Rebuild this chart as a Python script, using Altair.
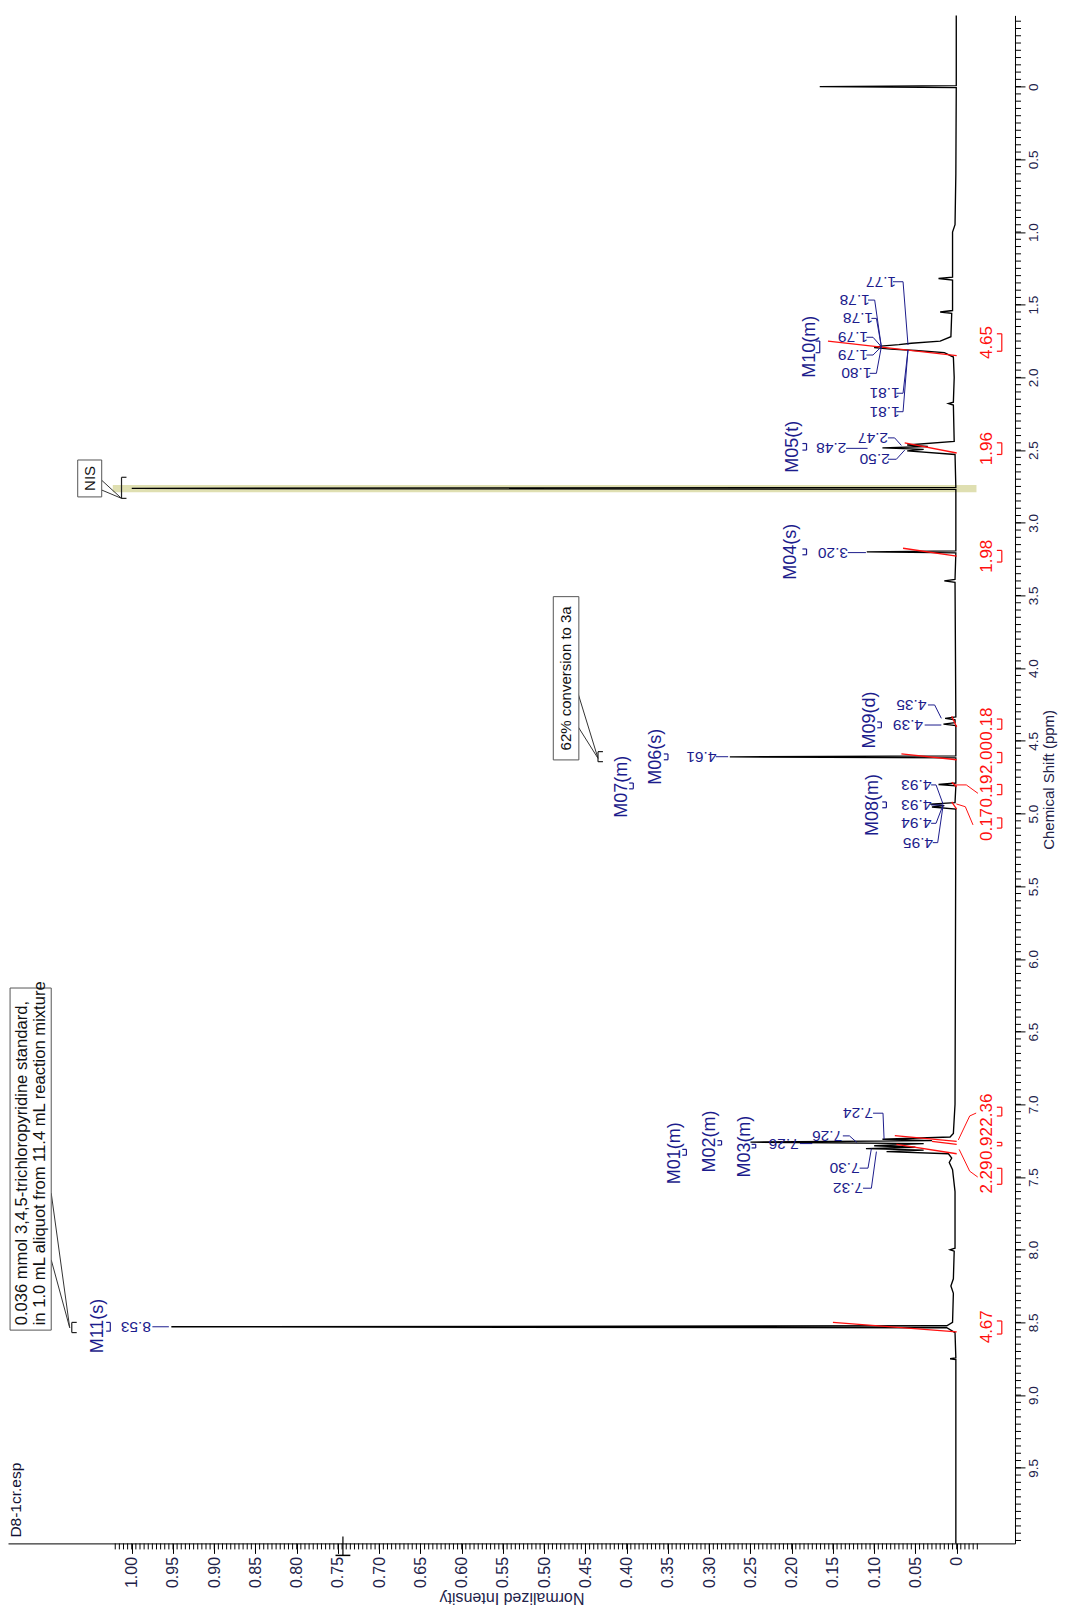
import altair as alt
import pandas as pd

# ---------------- spectrum (ppm, normalized intensity) ----------------
SPEC_PPM = [-0.49, -0.007, 0.0, 0.007, 0.6, 0.95, 1.0, 1.31, 1.32, 1.33,
            1.54, 1.55, 1.56, 1.72, 1.75, 1.765, 1.775, 1.785, 1.795, 1.805,
            1.815, 1.83, 1.86, 2.0, 2.17, 2.18, 2.19, 2.44, 2.465, 2.475,
            2.485, 2.495, 2.505, 2.53, 2.756, 2.763, 2.770, 3.193, 3.2, 3.207,
            3.39, 3.4, 3.41, 4.335, 4.345, 4.355, 4.375, 4.385, 4.395, 4.603,
            4.61, 4.617, 4.79, 4.8, 4.81, 4.925, 4.935, 4.945, 4.955, 4.97,
            7.0, 7.2, 7.225, 7.24, 7.25, 7.26, 7.27, 7.285, 7.295, 7.305,
            7.315, 7.325, 7.34, 7.37, 7.4, 7.45, 7.6, 7.99, 8.0, 8.01,
            8.2, 8.25, 8.3, 8.5, 8.523, 8.53, 8.537, 8.57, 8.745, 8.75,
            8.755, 10.02]
SPEC_INT = [0.0005, 0.0005, 0.166, 0.0005, 0.001, 0.002, 0.005, 0.005, 0.022, 0.005,
            0.005, 0.02, 0.006, 0.007, 0.02, 0.055, 0.07, 0.092, 0.1, 0.08,
            0.05, 0.015, 0.004, 0.003, 0.004, 0.01, 0.004, 0.003, 0.06, 0.035,
            0.09, 0.04, 0.06, 0.002, 0.001, 1.0, 0.001, 0.001, 0.109, 0.001,
            0.002, 0.015, 0.002, 0.001, 0.014, 0.002, 0.002, 0.016, 0.001, 0.001,
            0.275, 0.001, 0.001, 0.022, 0.001, 0.002, 0.032, 0.015, 0.03, 0.001,
            0.002, 0.004, 0.008, 0.09, 0.03, 0.25, 0.04, 0.1, 0.05, 0.11,
            0.04, 0.085, 0.01, 0.006, 0.009, 0.005, 0.002, 0.002, 0.008, 0.003,
            0.004, 0.007, 0.004, 0.005, 0.012, 0.952, 0.012, 0.002, 0.001, 0.008,
            0.001, 0.001]

# ---------------- integrals ----------------
INTEG_HEIGHT = [0.156, 0.063, 0.065, 0.006, 0.067, 0.006, 0.006, 0.075, 0.03, 0.073, 0.15]
INTEG_PPM_LO = [1.75, 2.45, 3.175, 4.33, 4.59, 4.785, 4.92, 7.215, 7.255, 7.275, 8.50]
INTEG_PPM_HI = [1.85, 2.52, 3.23, 4.405, 4.63, 4.815, 4.97, 7.255, 7.275, 7.34, 8.565]

INTEG_LABELS = ["4.65", "1.96", "1.98", "0.18", "2.00", "0.19", "0.17", "2.36", "0.92", "2.29", "4.67"]
INTEG_LABEL_PPM = [1.76, 2.49, 3.23, 4.385, 4.615, 4.845, 5.075, 7.04, 7.27, 7.50, 8.53]
INTEG_BR_LO = [1.70, 2.45, 3.19, 4.35, 4.58, 4.80, 5.03, 7.02, 7.262, 7.44, 8.49]
INTEG_BR_HI = [1.82, 2.53, 3.27, 4.42, 4.65, 4.87, 5.10, 7.08, 7.285, 7.55, 8.58]
INTEG_LABEL_INT = -0.0372
INTEG_BR_INT = -0.0547

RED_LEADER_ID = [0, 0, 0, 1, 1, 1, 2, 2, 2, 3, 3, 3]
RED_LEADER_INT = [-0.0258, -0.0117, 0.0024, -0.0198, -0.0105, 0.0004,
                  -0.0236, -0.0158, -0.002, -0.0255, -0.0158, -0.003]
RED_LEADER_PPM = [4.861, 4.803, 4.803, 5.078, 4.953, 4.934,
                  7.06, 7.08, 7.245, 7.50, 7.46, 7.31]

# ---------------- peak labels (blue, upside down) ----------------
PEAK_LABELS = ["8.53", "7.26", "7.24", "7.26", "7.30", "7.32",
               "1.77", "1.78", "1.78", "1.79", "1.79", "1.80", "1.81", "1.81",
               "2.48", "2.47", "2.50", "3.20", "4.61", "4.39", "4.35",
               "4.93", "4.93", "4.94", "4.95"]
PEAK_LABEL_INT = [0.995, 0.2097, 0.1196, 0.157, 0.1358, 0.1317,
                  0.0917, 0.1236, 0.1196, 0.1257, 0.1257, 0.1216, 0.0873, 0.0873,
                  0.152, 0.1014, 0.0994, 0.150, 0.3095, 0.059, 0.0549,
                  0.0489, 0.0489, 0.0489, 0.0469]
PEAK_LABEL_PPM = [8.53, 7.27, 7.061, 7.217, 7.439, 7.577,
                  1.342, 1.468, 1.594, 1.724, 1.846, 1.972, 2.109, 2.236,
                  2.488, 2.416, 2.563, 3.205, 4.609, 4.391, 4.253,
                  4.803, 4.941, 5.067, 5.200]

BLUE_LEADER_ID = [0, 0, 1, 1, 2, 2, 2, 3, 3, 3, 4, 4, 4, 5, 5, 5,
                  6, 6, 6, 7, 7, 7, 8, 8, 8, 9, 9, 9, 10, 10, 10, 11, 11, 11,
                  12, 12, 12, 13, 13, 13, 14, 14, 15, 15, 15, 16, 16, 16,
                  17, 17, 18, 18, 19, 19, 20, 20, 20,
                  21, 21, 21, 22, 22, 23, 23, 23, 24, 24, 24]
BLUE_LEADER_INT = [0.975, 0.955, 0.19, 0.175, 0.1014, 0.0893, 0.088, 0.138, 0.130, 0.121,
                   0.1176, 0.1075, 0.1034, 0.1135, 0.1034, 0.0973,
                   0.0772, 0.065, 0.059, 0.1075, 0.0994, 0.0913, 0.1034, 0.0973, 0.0913,
                   0.1095, 0.1014, 0.0913, 0.1095, 0.1014, 0.0913, 0.1055, 0.0973, 0.0913,
                   0.0731, 0.065, 0.059, 0.0731, 0.065, 0.059, 0.134, 0.108,
                   0.0833, 0.0752, 0.067, 0.0833, 0.0731, 0.063,
                   0.132, 0.11, 0.292, 0.277, 0.0388, 0.0186, 0.0348, 0.0267, 0.0186,
                   0.031, 0.025, 0.0165, 0.031, 0.0165, 0.031, 0.025, 0.0165, 0.029, 0.023, 0.0165]
BLUE_LEADER_PPM = [8.53, 8.53, 7.27, 7.27, 7.061, 7.061, 7.24, 7.217, 7.217, 7.262,
                   7.439, 7.439, 7.305, 7.577, 7.577, 7.325,
                   1.342, 1.342, 1.777, 1.468, 1.468, 1.789, 1.594, 1.594, 1.789,
                   1.724, 1.724, 1.789, 1.846, 1.846, 1.789, 1.972, 1.972, 1.789,
                   2.109, 2.109, 1.811, 2.236, 2.236, 1.811, 2.488, 2.488,
                   2.416, 2.416, 2.468, 2.563, 2.563, 2.50,
                   3.205, 3.205, 4.609, 4.609, 4.391, 4.391, 4.253, 4.253, 4.345,
                   4.803, 4.803, 4.935, 4.941, 4.941, 5.067, 5.067, 4.941, 5.200, 5.200, 4.945]

# ---------------- multiplet labels ----------------
MULT_LABELS = ["M11(s)", "M01(m)", "M02(m)", "M03(m)", "M10(m)", "M05(t)",
               "M04(s)", "M06(s)", "M07(m)", "M09(d)", "M08(m)"]
MULT_INT = [1.041, 0.3418, 0.2994, 0.257, 0.178, 0.198, 0.2004, 0.364, 0.406, 0.1055, 0.1014]
MULT_PPM = [8.525, 7.336, 7.256, 7.291, 1.789, 2.477, 3.199, 4.609, 4.815, 4.356, 4.941]
MULT_BR_INT = [1.026, 0.3276, 0.285, 0.2436, 0.166, 0.182, 0.182, 0.350, 0.392, 0.0913, 0.0852]
MULT_BR_LO = [8.50, 7.31, 7.25, 7.275, 1.75, 2.455, 3.18, 4.59, 4.79, 4.37, 4.92]
MULT_BR_HI = [8.56, 7.35, 7.28, 7.30, 1.83, 2.50, 3.22, 4.63, 4.83, 4.41, 4.96]

# ---------------- callouts ----------------
BOX_INT_A = [1.1475, 0.489, 1.0655]
BOX_INT_B = [1.0976, 0.458, 1.0364]
BOX_PPM_A = [6.20, 3.508, 2.568]
BOX_PPM_B = [8.553, 4.631, 2.822]

STD_TEXT = ["0.036 mmol 3,4,5-trichloropyridine standard,",
            "in 1.0 mL aliquot from 11.4 mL reaction mixture"]
STD_TEXT_INT = [1.133, 1.111]
STD_TEXT_PPM = [8.52, 8.52]

BOX_TEXT = ["62% conversion to 3a", "NIS"]
BOX_TEXT_INT = [0.4735, 1.051]
BOX_TEXT_PPM = [4.07, 2.695]

CALLOUT_LINE_ID = [0, 0, 1, 1, 2, 2, 3, 3, 4, 4, 5, 5]
CALLOUT_LINE_INT = [1.0976, 1.0752, 1.0976, 1.0752, 0.459, 0.4348, 0.459, 0.4348,
                    1.0367, 1.0124, 1.0367, 1.0124]
CALLOUT_LINE_PPM = [7.611, 8.537, 8.07, 8.537, 4.173, 4.62, 4.402, 4.62,
                    2.706, 2.832, 2.774, 2.832]
CALLOUT_BR_INT = [1.0727, 0.4348, 1.0124]
CALLOUT_BR_LO = [8.50, 4.574, 2.687]
CALLOUT_BR_HI = [8.57, 4.643, 2.832]

NIS_BAND_INT = [-0.024, 1.023]
NIS_BAND_PPM = [2.74, 2.79]

FILE_LABEL = "D8-1cr.esp"

# axis tick positions
INT_MAJOR_TICKS = [0.0, 0.05, 0.1, 0.15, 0.2, 0.25, 0.3, 0.35, 0.4, 0.45, 0.5,
                   0.55, 0.6, 0.65, 0.7, 0.75, 0.8, 0.85, 0.9, 0.95, 1.0]
PPM_MAJOR_TICKS = [0.0, 0.5, 1.0, 1.5, 2.0, 2.5, 3.0, 3.5, 4.0, 4.5, 5.0,
                   5.5, 6.0, 6.5, 7.0, 7.5, 8.0, 8.5, 9.0, 9.5]
INT_MINOR_TICKS = [round(k * 0.005, 3) for k in range(-5, 205)]
PPM_MINOR_TICKS = [round(k * 0.05, 2) for k in range(-9, 201)]

# ---------------- styling ----------------
W, H = 1007, 1528
FONT = "Liberation Sans"
BLUE = "#1c1c8c"
RED = "#ff1010"
AXIS_TXT = "#22224a"

XS = alt.Scale(domain=[-0.0707, 1.15], reverse=True, nice=False, zero=False)
YS = alt.Scale(domain=[-0.49, 10.02], reverse=True, nice=False, zero=False)

x_axis = alt.Axis(
    orient="bottom", values=INT_MAJOR_TICKS, grid=False,
    labelExpr="datum.value == 0 ? '0' : format(datum.value, '.2f')",
    labelAngle=270, labelAlign="right", labelBaseline="middle",
    labelFont=FONT, labelFontSize=16, labelColor=AXIS_TXT, labelPadding=3,
    labelOverlap=False, labelFlush=False,
    tickColor="black", tickWidth=1, tickSize=10,
    domainColor="black", domainWidth=1,
    title="Normalized Intensity", titleAngle=180, titleBaseline="bottom",
    titleFont=FONT, titleFontSize=16, titleFontWeight="normal",
    titleColor=AXIS_TXT, titlePadding=2)

y_axis = alt.Axis(
    orient="right", values=PPM_MAJOR_TICKS, grid=False,
    labelExpr="datum.value == 0 ? '0' : format(datum.value, '.1f')",
    labelAngle=270, labelAlign="center", labelBaseline="top",
    labelFont=FONT, labelFontSize=13.5, labelColor=AXIS_TXT, labelPadding=2,
    labelOverlap=False, labelFlush=False,
    tickColor="black", tickWidth=1, tickSize=10,
    domainColor="black", domainWidth=1,
    title="Chemical Shift (ppm)", titleAngle=270, titleBaseline="top",
    titleFont=FONT, titleFontSize=15, titleFontWeight="normal",
    titleColor=AXIS_TXT, titlePadding=1)


def X(f):
    return alt.X(f, type="quantitative", scale=XS)


def Y(f):
    return alt.Y(f, type="quantitative", scale=YS)


def bracket_df(xs, los, his, d):
    rows = []
    for bx, lo, hi in zip(xs, los, his):
        rows.append(dict(x=bx, x2=bx, y=lo, y2=hi))
        rows.append(dict(x=bx, x2=bx + d, y=lo, y2=lo))
        rows.append(dict(x=bx, x2=bx + d, y=hi, y2=hi))
    return pd.DataFrame(rows)


spec_df = pd.DataFrame({"ppm": SPEC_PPM, "inten": SPEC_INT, "k": range(len(SPEC_PPM))})

band = alt.Chart(pd.DataFrame({"x": [NIS_BAND_INT[0]], "x2": [NIS_BAND_INT[1]],
                               "y": [NIS_BAND_PPM[0]], "y2": [NIS_BAND_PPM[1]]})).mark_rect(
    color="#dcdca8", opacity=0.9).encode(x=X("x"), x2="x2", y=Y("y"), y2="y2")

spectrum = alt.Chart(spec_df).mark_line(color="black", strokeWidth=1.35).encode(
    x=alt.X("inten:Q", scale=XS, axis=x_axis),
    y=alt.Y("ppm:Q", scale=YS, axis=y_axis),
    order="k:Q")

x_minor = alt.Chart(pd.DataFrame({"v": INT_MINOR_TICKS})).mark_rule(
    color="black", strokeWidth=1).encode(x=X("v"), y=alt.value(H), y2=alt.value(H + 6))
y_minor = alt.Chart(pd.DataFrame({"v": PPM_MINOR_TICKS})).mark_rule(
    color="black", strokeWidth=1).encode(y=Y("v"), x=alt.value(W), x2=alt.value(W + 6))

integ_df = pd.DataFrame({"h": INTEG_HEIGHT, "lo": INTEG_PPM_LO, "hi": INTEG_PPM_HI,
                         "z": [0.0] * len(INTEG_HEIGHT)})
integrals = alt.Chart(integ_df).mark_rule(color=RED, strokeWidth=1.3).encode(
    x=X("h"), x2="z", y=Y("lo"), y2="hi")

integ_lab_df = pd.DataFrame({"t": INTEG_LABELS, "y": INTEG_LABEL_PPM,
                             "x": [INTEG_LABEL_INT] * len(INTEG_LABELS)})
integ_labels = alt.Chart(integ_lab_df).mark_text(
    angle=270, align="center", baseline="middle", font=FONT, fontSize=17, color=RED).encode(
    x=X("x"), y=Y("y"), text="t:N")

integ_br = alt.Chart(bracket_df([INTEG_BR_INT] * len(INTEG_BR_LO), INTEG_BR_LO, INTEG_BR_HI, 0.006)
                     ).mark_rule(color=RED, strokeWidth=1.2).encode(
    x=X("x"), x2="x2", y=Y("y"), y2="y2")

red_lead = alt.Chart(pd.DataFrame({"id": RED_LEADER_ID, "x": RED_LEADER_INT, "y": RED_LEADER_PPM,
                                   "k": range(len(RED_LEADER_ID))})).mark_line(
    color=RED, strokeWidth=1).encode(x=X("x"), y=Y("y"), detail="id:N", order="k:Q")

peak_labels = alt.Chart(pd.DataFrame({"t": PEAK_LABELS, "x": PEAK_LABEL_INT, "y": PEAK_LABEL_PPM})
                        ).mark_text(angle=180, align="center", baseline="middle", font=FONT,
                                    fontSize=15.5, color=BLUE).encode(
    x=X("x"), y=Y("y"), text="t:N")

blue_lead = alt.Chart(pd.DataFrame({"id": BLUE_LEADER_ID, "x": BLUE_LEADER_INT, "y": BLUE_LEADER_PPM,
                                    "k": range(len(BLUE_LEADER_ID))})).mark_line(
    color=BLUE, strokeWidth=1).encode(x=X("x"), y=Y("y"), detail="id:N", order="k:Q")

mult_labels = alt.Chart(pd.DataFrame({"t": MULT_LABELS, "x": MULT_INT, "y": MULT_PPM})
                        ).mark_text(angle=270, align="center", baseline="middle", font=FONT,
                                    fontSize=18, color=BLUE).encode(
    x=X("x"), y=Y("y"), text="t:N")

mult_br = alt.Chart(bracket_df(MULT_BR_INT, MULT_BR_LO, MULT_BR_HI, 0.005)).mark_rule(
    color=BLUE, strokeWidth=1.2).encode(x=X("x"), x2="x2", y=Y("y"), y2="y2")

boxes = alt.Chart(pd.DataFrame({"x": BOX_INT_A, "x2": BOX_INT_B, "y": BOX_PPM_A, "y2": BOX_PPM_B})
                  ).mark_rect(fill="white", stroke="#555555", strokeWidth=1).encode(
    x=X("x"), x2="x2", y=Y("y"), y2="y2")

std_text = alt.Chart(pd.DataFrame({"t": STD_TEXT, "x": STD_TEXT_INT, "y": STD_TEXT_PPM})).mark_text(
    angle=270, align="left", baseline="middle", font=FONT, fontSize=16.6, color="#111111").encode(
    x=X("x"), y=Y("y"), text="t:N")

box_text = alt.Chart(pd.DataFrame({"t": BOX_TEXT, "x": BOX_TEXT_INT, "y": BOX_TEXT_PPM})).mark_text(
    angle=270, align="center", baseline="middle", font=FONT, fontSize=15, color="#111111").encode(
    x=X("x"), y=Y("y"), text="t:N")

callout_lines = alt.Chart(pd.DataFrame({"id": CALLOUT_LINE_ID, "x": CALLOUT_LINE_INT,
                                        "y": CALLOUT_LINE_PPM, "k": range(len(CALLOUT_LINE_ID))})
                          ).mark_line(color="#333333", strokeWidth=1).encode(
    x=X("x"), y=Y("y"), detail="id:N", order="k:Q")

callout_br = alt.Chart(bracket_df(CALLOUT_BR_INT, CALLOUT_BR_LO, CALLOUT_BR_HI, -0.006)).mark_rule(
    color="#222222", strokeWidth=1.2).encode(x=X("x"), x2="x2", y=Y("y"), y2="y2")

file_label = alt.Chart(pd.DataFrame({"t": [FILE_LABEL], "x": [1.140], "y": [9.98]})).mark_text(
    angle=270, align="left", baseline="middle", font=FONT, fontSize=15.5, color="#111133").encode(
    x=X("x"), y=Y("y"), text="t:N")

cursor_v = alt.Chart(pd.DataFrame({"x": [0.744]})).mark_rule(color="black", strokeWidth=1.2).encode(
    x=X("x"), y=alt.value(H - 7), y2=alt.value(H + 12))
cursor_h = alt.Chart(pd.DataFrame({"x": [0.753], "x2": [0.735]})).mark_rule(
    color="black", strokeWidth=1.5).encode(x=X("x"), x2="x2", y=alt.value(H + 12))

chart = alt.layer(
    band, spectrum, x_minor, y_minor, integrals, integ_br, integ_labels, red_lead,
    blue_lead, peak_labels, mult_labels, mult_br,
    callout_lines, boxes, std_text, box_text, callout_br, file_label,
    cursor_v, cursor_h
).properties(
    width=W, height=H,
    padding={"left": 0, "top": 7.4, "right": 44, "bottom": 64},
    autosize=alt.AutoSizeParams(type="none"),
    background="white",
).configure_view(stroke=None)

chart.save("out.html", embed_options={"renderer": "svg", "actions": False})
